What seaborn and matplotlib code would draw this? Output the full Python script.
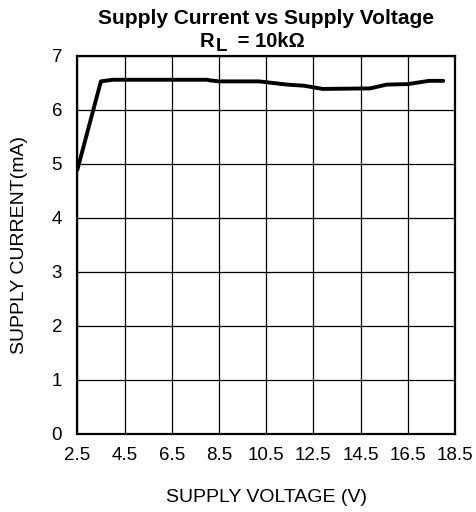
import matplotlib
matplotlib.use("Agg")
import matplotlib.pyplot as plt
import seaborn as sns
import pandas as pd

voltage = [2.5, 3.5, 4.0, 8.0, 8.1, 8.5, 10.2, 11.4, 12.1, 12.9, 14.9, 15.6, 16.5, 17.4, 18.0]
current = [4.89, 6.53, 6.56, 6.56, 6.55, 6.53, 6.53, 6.47, 6.45, 6.39, 6.40, 6.47, 6.48, 6.54, 6.54]
x_ticks = [2.5, 4.5, 6.5, 8.5, 10.5, 12.5, 14.5, 16.5, 18.5]
x_tick_labels = ["2.5", "4.5", "6.5", "8.5", "10.5", "12.5", "14.5", "16.5", "18.5"]
y_ticks = [0, 1, 2, 3, 4, 5, 6, 7]

sns.set_style("white")
plt.rcParams["font.family"] = ["Liberation Sans", "DejaVu Sans"]
plt.rcParams["text.color"] = "black"
plt.rcParams["axes.labelcolor"] = "black"

W, H = 477, 512
df = pd.DataFrame({"V": voltage, "I": current})

fig = plt.figure(figsize=(W / 100, H / 100), dpi=100)
ax = fig.add_axes([77.3 / W, 1 - 434 / H, (455 - 77.3) / W, (434 - 56) / H])

sns.lineplot(data=df, x="V", y="I", ax=ax, color="black", linewidth=2.8, sort=False)

ax.set_xlim(2.5, 18.5)
ax.set_ylim(0, 7)
ax.set_xticks(x_ticks)
ax.set_xticklabels(x_tick_labels)
ax.set_yticks(y_ticks)
ax.grid(True, color="black", linewidth=0.9)
for s in ax.spines.values():
    s.set_visible(True)
    s.set_color("black")
    s.set_linewidth(1.6)
ax.tick_params(axis="both", length=0, labelsize=13.5, colors="black")
ax.tick_params(axis="x", pad=9)
ax.tick_params(axis="y", pad=11)

ax.set_xlabel("SUPPLY VOLTAGE (V)", fontsize=14, va="center", color="black")
ax.xaxis.set_label_coords(0.5, (434 - 497) / 378)
ax.set_ylabel("SUPPLY CURRENT(mA)", fontsize=14, va="center", color="black")
ax.yaxis.set_label_coords((20 - 77.3) / 377.7, 0.5)

fig.text(266 / W, 1 - 24 / H, "Supply Current vs Supply Voltage", ha="center", va="baseline",
         fontsize=15, fontweight="bold", color="black")
fig.text(200 / W, 1 - 47 / H, "R", ha="left", va="baseline", fontsize=14.5,
         fontweight="bold", color="black")
fig.text(216 / W, 1 - 51 / H, "L", ha="left", va="baseline", fontsize=13.5,
         fontweight="bold", color="black")
fig.text(232 / W, 1 - 47 / H, " = 10kΩ", ha="left", va="baseline", fontsize=14.5,
         fontweight="bold", color="black")

fig.savefig("out.png", dpi=100)
